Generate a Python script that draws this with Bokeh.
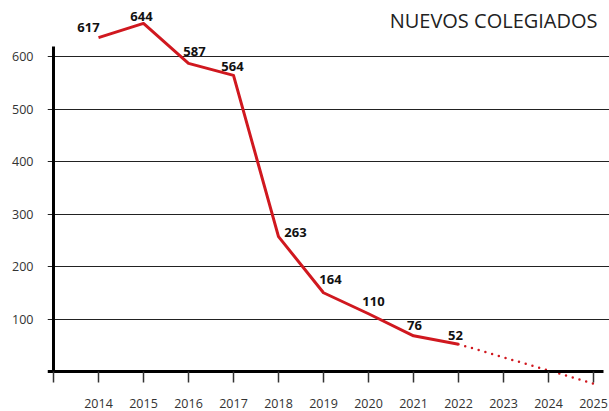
from bokeh.plotting import figure
from bokeh.models import ColumnDataSource, FixedTicker, Label, Range1d
from bokeh.core.properties import value
from bokeh.embed import file_html
from bokeh.resources import INLINE

# ---- data ----
years = [2014, 2015, 2016, 2017, 2018, 2019, 2020, 2021, 2022]
plotted_values = [636, 663, 587, 564, 257, 150, 110, 68, 52]
value_labels = ["617", "644", "587", "564", "263", "164", "110", "76", "52"]
proj_years = [2022, 2023, 2024, 2025]
proj_values = [52, 27, 2, -23]
tick_years = list(range(2013, 2026))
y_ticks = [100, 200, 300, 400, 500, 600]
chart_title = "NUEVOS COLEGIADOS"

# ---- styling ----
RED = "#d0181f"
FONT = "Open Sans"
label_dx = [-10, -2, 6, -1, 17, 7, 5, 1, -3]
label_dy = [-10, -7, -12, -9, -4, -13, -12, -10, -9]
X_START, X_END, LINE_END = 2012.8667, 2025.3556, 2025.2222

p = figure(width=609, height=411, output_backend="svg", toolbar_location=None,
           x_range=Range1d(X_START, X_END), y_range=Range1d(-76.19, 706.67),
           min_border_left=47, min_border_right=0, min_border_top=0, min_border_bottom=0)
p.outline_line_color = None
p.background_fill_color = "white"
p.border_fill_color = "white"

# grid
p.xgrid.visible = False
p.ygrid.ticker = FixedTicker(ticks=y_ticks)
p.ygrid.bounds = (X_START, LINE_END)
p.ygrid.grid_line_color = "#222222"
p.ygrid.grid_line_width = 1

# y axis
p.yaxis.ticker = FixedTicker(ticks=y_ticks)
p.yaxis.axis_line_color = None
p.yaxis.major_tick_line_color = None
p.yaxis.minor_tick_line_color = None
p.yaxis.major_tick_out = 0
p.yaxis.major_tick_in = 0
p.yaxis.major_label_standoff = 14
p.yaxis.major_label_text_font = FONT
p.yaxis.major_label_text_font_size = "12.5px"
p.yaxis.major_label_text_color = "#333333"

# x axis, pinned at zero
xa = p.xaxis[0]
xa.fixed_location = 0
xa.bounds = (X_START, LINE_END)
xa.ticker = FixedTicker(ticks=tick_years)
xa.major_label_overrides = {tick_years[0]: ""}
xa.axis_line_color = "black"
xa.axis_line_width = 3
xa.major_tick_line_color = "#333333"
xa.major_tick_line_width = 1.5
xa.major_tick_out = 11
xa.major_tick_in = 0
xa.minor_tick_line_color = None
xa.major_label_standoff = 16
xa.major_label_text_font = FONT
xa.major_label_text_font_size = "12.5px"
xa.major_label_text_color = "#333333"

# vertical axis line at the first year
p.segment(x0=[tick_years[0]], y0=[0], x1=[tick_years[0]], y1=[619], line_color="black", line_width=3)

# series
p.line(years, plotted_values, line_color=RED, line_width=3, line_join="round")
p.line(proj_years, proj_values, line_color=RED, line_width=2.5, line_dash="0 7", line_cap="round")

src = ColumnDataSource(dict(x=years, y=plotted_values, t=value_labels, dx=label_dx, dy=label_dy))
p.text(x="x", y="y", text="t", x_offset="dx", y_offset="dy", source=src,
       text_font=value(FONT), text_font_style="bold", text_font_size="13px",
       text_color="#111111", text_align="center", text_baseline="middle")

p.add_layout(Label(x=2025.09, y=668.6, text=chart_title, text_align="right", text_baseline="middle",
                   text_font=FONT, text_font_size="20px", text_color="#222222"))

open("out.html", "w").write(file_html(p, INLINE))
